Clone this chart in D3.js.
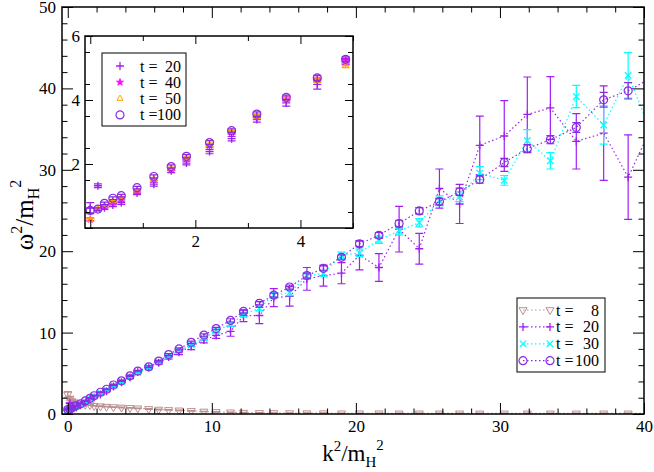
<!DOCTYPE html>
<html><head><meta charset="utf-8">
<script src="https://cdn.jsdelivr.net/npm/d3@7"></script>
<style>
body{margin:0;background:#fff}
svg{display:block}
</style>
</head><body>
<svg id="c" width="654" height="472" style="font-family:'Liberation Serif',serif"></svg>
<script>
// ---------- data ----------
const k2 = [0, 0.146, 0.27, 0.43, 0.59, 0.89, 1.21, 1.54, 1.83, 2.27, 2.69, 3.17, 3.73, 4.32, 4.86,
  5.62, 6.31, 7.0, 7.72, 8.57, 9.45, 10.3, 11.3, 12.2, 13.3, 14.3, 15.4, 16.6, 17.75, 19.0,
  20.25, 21.6, 23.0, 24.4, 25.8, 27.2, 28.6, 30.3, 31.9, 33.5, 35.3, 37.2, 38.9, 40.7];

const t8 = [2.4, 1.9, 1.6, 1.45, 1.35, 1.25, 1.15, 1.1, 1.0, 0.95, 0.9, 0.85, 0.8, 0.75, 0.7,
  0.62, 0.55, 0.5, 0.45, 0.38, 0.31, 0.26, 0.21, 0.17, 0.13, 0.12, 0.11, 0.1, 0.1, 0.09,
  0.09, 0.09, 0.08, 0.08, 0.08, 0.08, 0.08, 0.08, 0.08, 0.08, 0.08, 0.08, 0.08, 0.08];
const t8err = [0.35, 0.2, 0.1, 0.08, 0.06, 0.05, 0.05, 0.05, 0.04, 0.04, 0.04, 0.04, 0.04, 0.04, 0.04,
  0.04, 0.04, 0.04, 0.04, 0.03, 0.03, 0.03, 0.03, 0.03, 0.03, 0.03, 0.03, 0.03, 0.03, 0.03,
  0.03, 0.03, 0.03, 0.03, 0.03, 0.03, 0.03, 0.03, 0.03, 0.03, 0.03, 0.03, 0.03, 0.03];

const t20 = [0.62, 1.32, 0.63, 0.72, 0.79, 1.09, 1.37, 1.79, 2.03, 2.39, 2.79, 3.39, 3.91, 4.49, 5.2,
  5.7, 6.3, 7.0, 7.6, 8.3, 9.1, 9.65, 10.15, 12.05, 12.1, 14.3, 14.45, 16.6, 17.0, 17.3,
  19.5, 18.0, 22.7, 20.3, 27.7, 25.8, 33.0, 34.15, 36.8, 37.6, 33.5, 34.5, 29.1, 35.9];
const t20err = [0.17, 0.06, 0.05, 0.05, 0.05, 0.05, 0.06, 0.06, 0.06, 0.07, 0.07, 0.08, 0.1, 0.15, 0.1,
  0.2, 0.2, 0.25, 0.3, 0.4, 0.35, 0.35, 0.6, 0.7, 1.0, 1.1, 1.2, 1.4, 1.3, 1.3,
  1.8, 1.7, 2.8, 1.9, 2.4, 2.4, 3.6, 4.35, 4.6, 3.85, 3.4, 5.8, 5.2, 5.0];

const t30 = [0.5, 0.6, 0.72, 0.88, 0.97, 1.22, 1.57, 1.9, 2.2, 2.6, 3.0, 3.5, 4.0, 4.6, 5.1,
  5.7, 6.4, 7.1, 7.8, 8.5, 9.3, 10.2, 11.0, 12.2, 13.0, 14.6, 14.9, 16.95, 17.3, 19.5,
  19.8, 21.4, 22.5, 23.5, 26.2, 26.7, 29.6, 28.7, 33.6, 31.1, 39.0, 35.5, 41.6, 33.7];
const t30err = [0.1, 0.05, 0.05, 0.05, 0.05, 0.05, 0.05, 0.05, 0.05, 0.06, 0.06, 0.07, 0.07, 0.08, 0.08,
  0.1, 0.1, 0.12, 0.12, 0.15, 0.15, 0.2, 0.2, 0.25, 0.3, 0.3, 0.35, 0.35, 0.4, 0.4,
  0.45, 0.45, 0.5, 0.5, 0.6, 0.6, 0.8, 0.6, 1.33, 1.0, 1.37, 2.35, 2.8, 2.5];

const t100 = [0.55, 0.59, 0.77, 0.93, 1.01, 1.26, 1.61, 1.92, 2.24, 2.67, 3.04, 3.56, 4.08, 4.69, 5.27,
  5.8, 6.5, 7.3, 8.0, 8.8, 9.7, 10.5, 11.5, 12.6, 13.6, 14.6, 15.6, 17.0, 17.9, 19.25,
  20.9, 21.95, 23.4, 24.95, 26.1, 27.3, 28.8, 30.9, 32.6, 33.7, 35.2, 38.6, 39.7, 41.5];
const t100err = [0.08, 0.04, 0.04, 0.04, 0.04, 0.04, 0.05, 0.05, 0.05, 0.06, 0.06, 0.07, 0.07, 0.08, 0.08,
  0.1, 0.1, 0.12, 0.12, 0.15, 0.15, 0.15, 0.2, 0.2, 0.2, 0.25, 0.25, 0.3, 0.3, 0.3,
  0.35, 0.35, 0.4, 0.4, 0.4, 0.45, 0.45, 0.5, 0.5, 0.5, 0.6, 0.9, 1.0, 1.0];

// inset-only series (first 15 momenta)
const t40 = [0.27, 0.58, 0.68, 0.82, 0.92, 1.16, 1.52, 1.85, 2.17, 2.58, 2.98, 3.5, 4.04, 4.64, 5.2];
const t50 = [0.25, 0.6, 0.7, 0.84, 0.94, 1.18, 1.53, 1.86, 2.18, 2.6, 3.0, 3.48, 4.02, 4.62, 5.08];
const t40err = [0.04, 0.03, 0.03, 0.03, 0.03, 0.03, 0.04, 0.04, 0.04, 0.05, 0.05, 0.06, 0.06, 0.07, 0.07];
const t50err = [0.04, 0.03, 0.03, 0.03, 0.03, 0.03, 0.04, 0.04, 0.04, 0.05, 0.05, 0.06, 0.06, 0.07, 0.07];

const mainXTicks = [0, 10, 20, 30, 40];
const mainYTicks = [0, 10, 20, 30, 40, 50];
const insetXTicks = [0, 2, 4];
const insetXLabels = [2, 4];
const insetYTicks = [0, 2, 4, 6];
const insetYLabels = [2, 4, 6];

const mainLegend = [{t: "8"}, {t: "20"}, {t: "30"}, {t: "100"}];
const insetLegend = [{t: "20"}, {t: "40"}, {t: "50"}, {t: "100"}];

// ---------- drawing ----------
const FONT = "'Liberation Serif', 'Times New Roman', serif";
const svg = d3.select("#c");
svg.append("rect").attr("width", 654).attr("height", 472).attr("fill", "#fff");

const C = {t8: "#bc8f8f", t20: "#a020f0", t30: "#00ffff", t40: "#ff00ff", t50: "#ffa500", t100: "#8a2be2"};

const x = d3.scaleLinear().domain([-0.4, 40]).range([62, 644]);
const y = d3.scaleLinear().domain([0, 50]).range([414, 7]);
const xi = d3.scaleLinear().domain([-0.1, 5]).range([85, 353]);
const yi = d3.scaleLinear().domain([0, 6]).range([228, 36]);

function txt(sel, size) {
  return sel.style("font-family", FONT).style("font-size", size + "px").attr("fill", "#000");
}

function marker(g, type, color) {
  if (type === "tridown") {
    g.append("path").attr("d", "M-4,-2.3L4,-2.3L0,4.6Z").attr("fill", "none").attr("stroke", color).attr("stroke-width", 1);
  } else if (type === "triup") {
    g.append("path").attr("d", "M-3,1.7L3,1.7L0,-3.5Z").attr("fill", "none").attr("stroke", color).attr("stroke-width", 1);
  } else if (type === "plus") {
    g.append("path").attr("d", "M-4,0H4M0,-4V4").attr("stroke", color).attr("stroke-width", 1.3);
  } else if (type === "x") {
    g.append("path").attr("d", "M-3.2,-3.2L3.2,3.2M-3.2,3.2L3.2,-3.2").attr("stroke", color).attr("stroke-width", 1.3);
  } else if (type === "circle") {
    g.append("circle").attr("r", 4).attr("fill", "none").attr("stroke", color).attr("stroke-width", 1.2);
  } else if (type === "star") {
    g.append("path").attr("d", d3.symbol(d3.symbolStar, 16)()).attr("fill", color).attr("stroke", color).attr("stroke-width", 0.8);
  }
}

function series(g, xs, ys, xv, yv, ev, color, type, withLine) {
  const pts = xv.map((d, i) => ({x: d, y: yv[i], e: ev[i]}));
  if (withLine) {
    g.append("path").datum(pts)
      .attr("d", d3.line().x(d => xs(d.x)).y(d => ys(d.y)))
      .attr("fill", "none").attr("stroke", color).attr("stroke-width", 1.2)
      .attr("stroke-dasharray", "1.5,2.5");
  }
  const eb = g.append("g").attr("stroke", color).attr("stroke-width", 1.2).attr("fill", "none");
  pts.forEach(d => {
    const x0 = xs(d.x), y1 = ys(d.y + d.e), y2 = ys(d.y - d.e);
    eb.append("path").attr("d", `M${x0},${y1}V${y2}M${x0 - 4},${y1}H${x0 + 4}M${x0 - 4},${y2}H${x0 + 4}`);
  });
  pts.forEach(d => {
    marker(g.append("g").attr("transform", `translate(${xs(d.x)},${ys(d.y)})`), type, color);
  });
}

function frameAxes(g, xs, ys, o) {
  const [x0, x1] = xs.range(), [y0, y1] = ys.range();
  const style = sel => {
    sel.select(".domain").remove();
    sel.attr("font-family", FONT).attr("font-size", o.fs);
    txt(sel.selectAll("text"), o.fs);
    sel.selectAll("line").attr("stroke-width", 1);
  };
  // minor
  g.append("g").attr("transform", `translate(0,${y0})`).call(d3.axisBottom(xs).tickValues(o.minX).tickSize(-o.minL).tickFormat("")).call(style);
  g.append("g").attr("transform", `translate(0,${y1})`).call(d3.axisTop(xs).tickValues(o.minX).tickSize(-o.minL).tickFormat("")).call(style);
  g.append("g").attr("transform", `translate(${x0},0)`).call(d3.axisLeft(ys).tickValues(o.minY).tickSize(-o.minL).tickFormat("")).call(style);
  g.append("g").attr("transform", `translate(${x1},0)`).call(d3.axisRight(ys).tickValues(o.minY).tickSize(-o.minL).tickFormat("")).call(style);
  // major
  g.append("g").attr("transform", `translate(0,${y0})`).call(d3.axisBottom(xs).tickValues(o.majX).tickSize(-o.majL).tickPadding(o.padX).tickFormat(o.fmtX)).call(style);
  g.append("g").attr("transform", `translate(0,${y1})`).call(d3.axisTop(xs).tickValues(o.majX).tickSize(-o.majL).tickFormat("")).call(style);
  g.append("g").attr("transform", `translate(${x0},0)`).call(d3.axisLeft(ys).tickValues(o.majY).tickSize(-o.majL).tickPadding(o.padY).tickFormat(o.fmtY)).call(style);
  g.append("g").attr("transform", `translate(${x1},0)`).call(d3.axisRight(ys).tickValues(o.majY).tickSize(-o.majL).tickFormat("")).call(style);
  g.append("rect").attr("x", x0).attr("y", y1).attr("width", x1 - x0).attr("height", y0 - y1)
    .attr("fill", "none").attr("stroke", "#000").attr("stroke-width", 1.5);
}

// ---- main plot ----
svg.append("clipPath").attr("id", "clipMain").append("rect")
  .attr("x", 62).attr("y", 7).attr("width", 582).attr("height", 407);
const main = svg.append("g").attr("clip-path", "url(#clipMain)");
series(main, x, y, k2, t8, t8err, C.t8, "tridown", true);
series(main, x, y, k2, t20, t20err, C.t20, "plus", true);
series(main, x, y, k2, t30, t30err, C.t30, "x", true);
series(main, x, y, k2, t100, t100err, C.t100, "circle", true);

const minorMainX = d3.range(0, 41, 2).filter(v => v % 10 !== 0);
const minorMainY = d3.range(0, 51, 2).filter(v => v % 10 !== 0);
frameAxes(svg.append("g"), x, y, {
  majX: mainXTicks, minX: minorMainX, majY: mainYTicks, minY: minorMainY,
  majL: 11, minL: 5.5, padX: 6, padY: 6, fs: 17,
  fmtX: d => d, fmtY: d => d
});

// axis titles
const xt = txt(svg.append("text"), 23).attr("x", 353).attr("y", 461).attr("text-anchor", "middle");
xt.append("tspan").text("k");
xt.append("tspan").text("2").attr("dy", -10).style("font-size", "15px");
xt.append("tspan").text("/m").attr("dy", 10);
xt.append("tspan").text("H").attr("dy", 6).style("font-size", "15px");
xt.append("tspan").text("2").attr("dy", -17).style("font-size", "15px");

const yt = txt(svg.append("text"), 25).attr("transform", "translate(33,215) rotate(-90)").attr("text-anchor", "middle");
yt.append("tspan").text("\u03c9");
yt.append("tspan").text("2").attr("dy", -11).style("font-size", "16px");
yt.append("tspan").text("/m").attr("dy", 11);
yt.append("tspan").text("H").attr("dy", 6).style("font-size", "16px");
yt.append("tspan").text("2").attr("dy", -18).style("font-size", "16px");

// main legend
const lg = svg.append("g");
lg.append("rect").attr("x", 517).attr("y", 298).attr("width", 88).attr("height", 74)
  .attr("fill", "#fff").attr("stroke", "#000").attr("stroke-width", 1);
const mainTypes = [["t8", "tridown"], ["t20", "plus"], ["t30", "x"], ["t100", "circle"]];
mainLegend.forEach((d, i) => {
  const yy = 310 + i * 16.9;
  const [key, type] = mainTypes[i];
  lg.append("line").attr("x1", 523).attr("x2", 550).attr("y1", yy).attr("y2", yy)
    .attr("stroke", C[key]).attr("stroke-width", 1.2).attr("stroke-dasharray", "1.5,2.5");
  marker(lg.append("g").attr("transform", `translate(523,${yy})`), type, C[key]);
  marker(lg.append("g").attr("transform", `translate(550,${yy})`), type, C[key]);
  txt(lg.append("text"), 16).attr("x", 556).attr("y", yy + 5.5).text("t =");
  txt(lg.append("text"), 16).attr("x", 599).attr("y", yy + 5.5).attr("text-anchor", "end").text(d.t);
});

// ---- inset ----
const ins = svg.append("g");
ins.append("rect").attr("x", 85).attr("y", 36).attr("width", 268).attr("height", 192).attr("fill", "#fff");
svg.append("clipPath").attr("id", "clipIns").append("rect")
  .attr("x", 85).attr("y", 36).attr("width", 268).attr("height", 192);
const insData = ins.append("g").attr("clip-path", "url(#clipIns)");
const kIn = k2.slice(0, 15);
series(insData, xi, yi, kIn, t20.slice(0, 15), t20err.slice(0, 15), C.t20, "plus", false);
series(insData, xi, yi, kIn, t40, t40err, C.t40, "star", false);
series(insData, xi, yi, kIn, t50, t50err, C.t50, "triup", false);
series(insData, xi, yi, kIn, t100.slice(0, 15), t100err.slice(0, 15), C.t100, "circle", false);

frameAxes(ins.append("g"), xi, yi, {
  majX: insetXTicks, minX: [1, 3, 5], majY: insetYTicks, minY: d3.range(0.5, 6, 1),
  majL: 8, minL: 5, padX: 7, padY: 5, fs: 17,
  fmtX: d => insetXLabels.includes(d) ? d : "", fmtY: d => insetYLabels.includes(d) ? d : ""
});

const il = ins.append("g");
il.append("rect").attr("x", 102).attr("y", 53).attr("width", 84).attr("height", 73)
  .attr("fill", "#fff").attr("stroke", "#000").attr("stroke-width", 1);
const insTypes = [["t20", "plus"], ["t40", "star"], ["t50", "triup"], ["t100", "circle"]];
insetLegend.forEach((d, i) => {
  const yy = 66 + i * 16.3;
  const [key, type] = insTypes[i];
  marker(il.append("g").attr("transform", `translate(120,${yy})`), type, C[key]);
  txt(il.append("text"), 16).attr("x", 140).attr("y", yy + 5.5).text("t =");
  txt(il.append("text"), 16).attr("x", 181).attr("y", yy + 5.5).attr("text-anchor", "end").text(d.t);
});
</script>
</body></html>
